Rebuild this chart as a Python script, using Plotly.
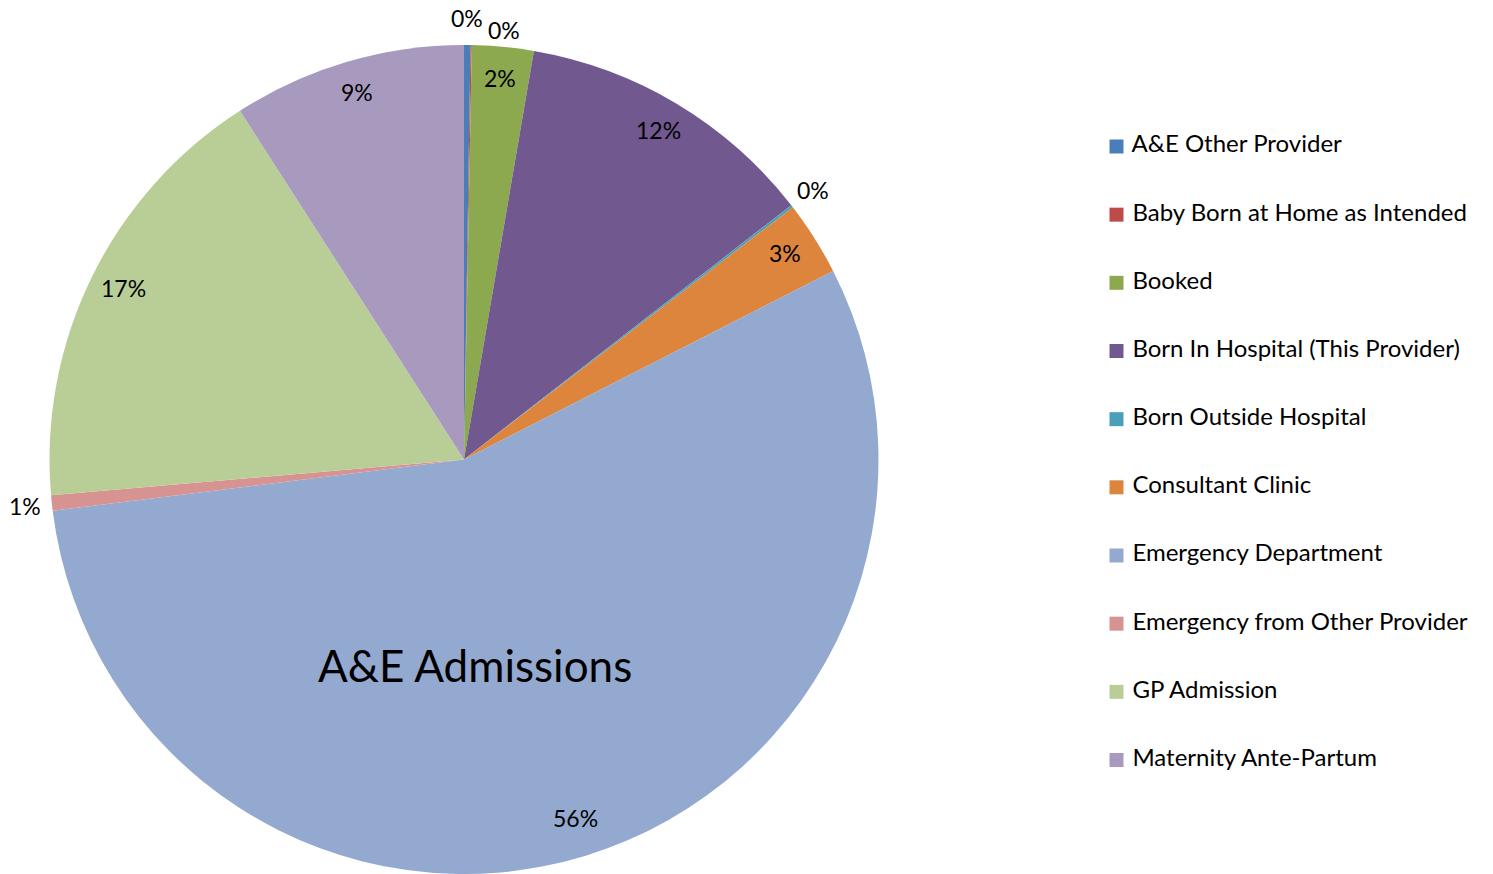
import math
import plotly.graph_objects as go

# Admission source breakdown
categories = [
    "A&E Other Provider",
    "Baby Born at Home as Intended",
    "Booked",
    "Born In Hospital (This Provider)",
    "Born Outside Hospital",
    "Consultant Clinic",
    "Emergency Department",
    "Emergency from Other Provider",
    "GP Admission",
    "Maternity Ante-Partum",
]
admissions = [5, 1, 48, 236, 2, 58, 1112, 12, 346, 182]
colors = [
    "#4A7EBB", "#BE4B48", "#8DA94F", "#71588F", "#4AA0BB",
    "#DD843D", "#94A9D0", "#D69391", "#B9CD96", "#A89ABF",
]
chart_title = "A&E Admissions"

W, H = 1493, 874
FONT = "Lato, Carlito, Calibri, sans-serif"

# pie geometry (pixels)
top_px = 45
radius = (H - top_px) / 2
cx, cy = 464, top_px + radius

fig = go.Figure()
fig.add_trace(go.Pie(
    labels=categories,
    values=admissions,
    marker=dict(colors=colors, line=dict(width=0)),
    sort=False,
    direction="clockwise",
    rotation=0,
    textinfo="none",
    showlegend=False,
    hoverinfo="label+value+percent",
    domain=dict(x=[(cx - radius) / W, (cx + radius) / W], y=[0, (H - top_px) / H]),
))

# percentage labels, placed along each slice's mid-angle
total = sum(admissions)
annotations = []
cum = 0
for name, v in zip(categories, admissions):
    share = v / total
    mid = cum + share / 2
    cum += share
    outside = share < 0.01
    r = radius * (1.065 if outside else 0.915)
    theta = 2 * math.pi * mid
    px = cx + r * math.sin(theta)
    py = cy - r * math.cos(theta)
    ann = dict(
        x=px / W, y=1 - py / H, xref="paper", yref="paper",
        text=f"{share:.0%}", showarrow=False,
        font=dict(family=FONT, size=23, color="#000000"),
        xanchor="center", yanchor="middle",
        yshift=0 if outside else 4,
    )
    if name == "Baby Born at Home as Intended":
        # nudge apart from the neighbouring tiny-slice label
        ann.update(xshift=32, yshift=-12)
    annotations.append(ann)

annotations.append(dict(
    x=475 / W, y=1 - 665 / H, xref="paper", yref="paper",
    text=chart_title, showarrow=False,
    font=dict(family=FONT, size=44, color="#000000"),
    xanchor="center", yanchor="middle",
))

# legend: one square marker + label per category
fig.add_trace(go.Scatter(
    x=[0] * len(categories),
    y=list(range(len(categories))),
    mode="markers+text",
    marker=dict(symbol="square", size=14, color=colors, line=dict(width=0)),
    text=[" " + c for c in categories],
    textposition="middle right",
    textfont=dict(family=FONT, size=24, color="#000000"),
    cliponaxis=False,
    hoverinfo="skip",
    showlegend=False,
))

item_top, item_bottom = 146.5, 760
step = (item_bottom - item_top) / (len(categories) - 1)
fig.update_layout(
    width=W, height=H,
    margin=dict(l=0, r=0, t=0, b=0),
    paper_bgcolor="white", plot_bgcolor="rgba(0,0,0,0)",
    annotations=annotations,
    xaxis=dict(domain=[1116.5 / W, 1.0], range=[0, 1], visible=False, fixedrange=True),
    yaxis=dict(
        domain=[1 - (item_bottom + step / 2) / H, 1 - (item_top - step / 2) / H],
        range=[len(categories) - 0.5, -0.5], visible=False, fixedrange=True,
    ),
)

fig.write_html("out.html")
